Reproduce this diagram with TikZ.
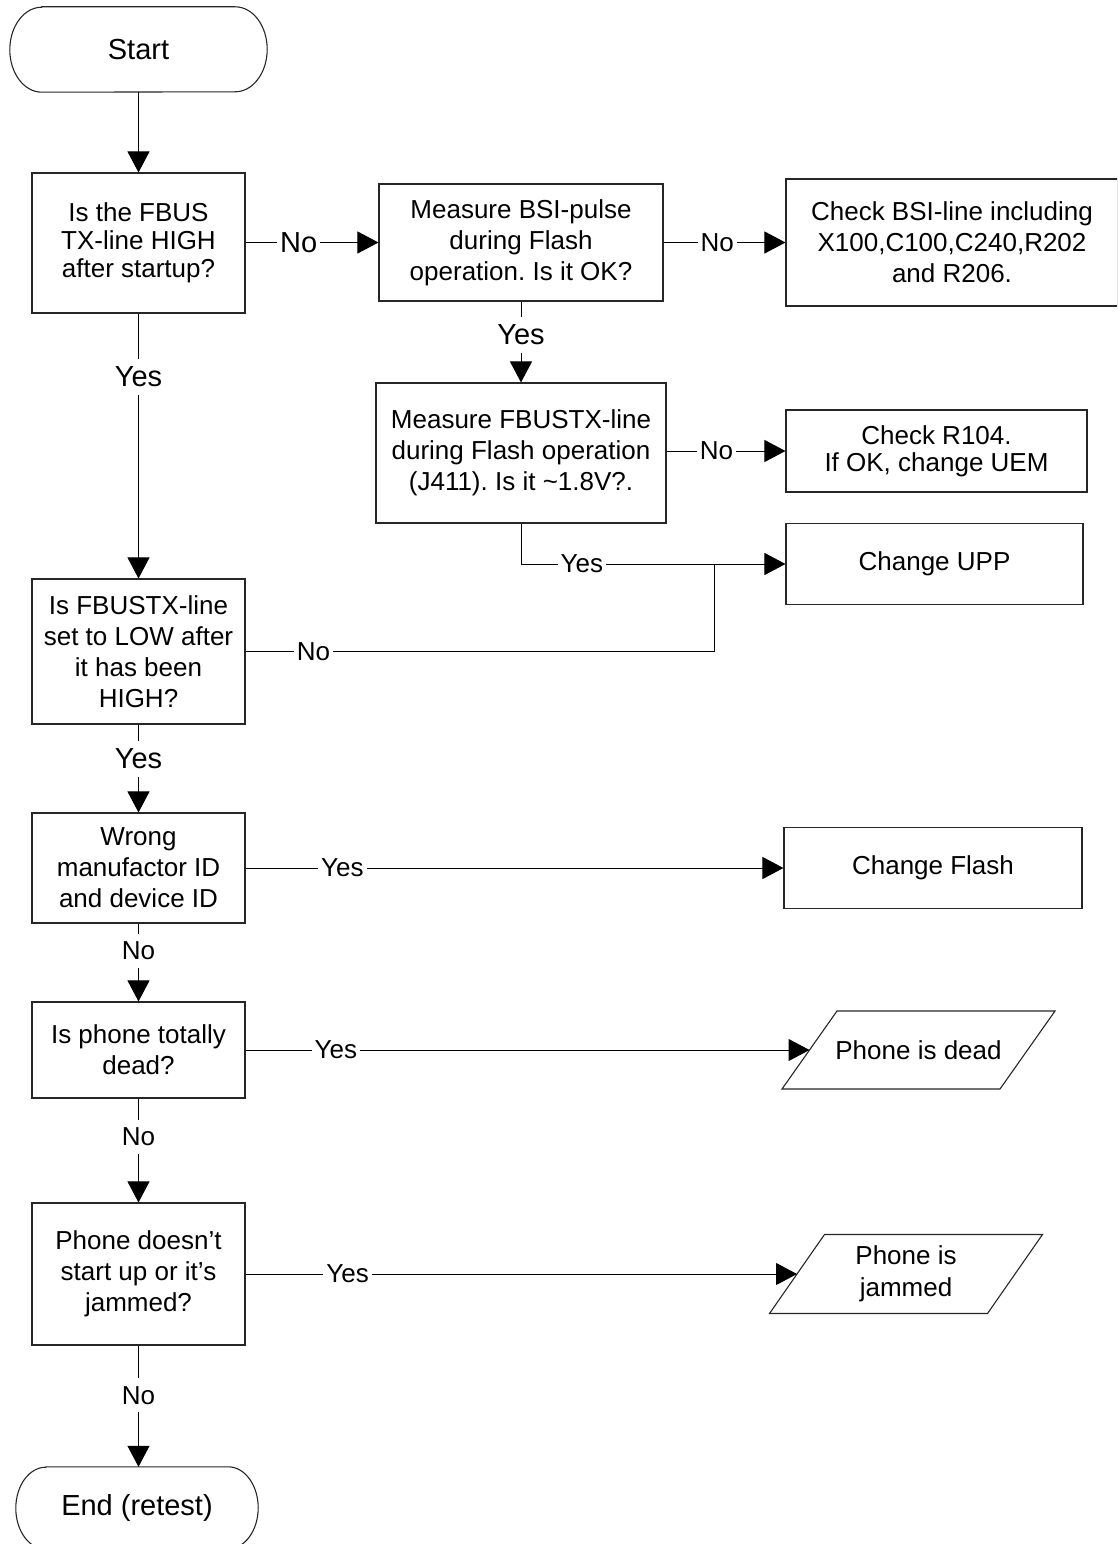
\documentclass[tikz,border=0pt]{standalone}
\usepackage{fontspec}
\setmainfont{Liberation Sans}
\usetikzlibrary{arrows.meta}
\frenchspacing
\begin{document}
\begin{tikzpicture}[x=1pt,y=-1pt,
  box/.style={draw=black!85, line width=1.1pt, rectangle, inner sep=0pt, align=center, font=\fontsize{26}{31}\selectfont},
  txt/.style={inner sep=0pt, align=center, font=\fontsize{26}{31}\selectfont},
  outline/.style={draw=black!85, line width=1.1pt},
  conn/.style={line width=1pt, draw=black},
  arr/.style={conn, -{Triangle[length=21pt,width=22pt]}},
  lbl/.style={fill=white, inner xsep=3pt, inner ysep=8pt, font=\fontsize{26}{31}\selectfont},
  lblbig/.style={font=\fontsize{29}{34}\selectfont}
]
\path[use as bounding box] (0,0) rectangle (1117,1544);
\clip (0,0) rectangle (1117,1544);

% terminals
\node[txt, font=\fontsize{29}{34}\selectfont, minimum width=257pt, minimum height=85pt] (start) at (138.5,49.5) {Start};
\draw[outline] ([xshift=32pt]start.north west) -- ([xshift=-32pt]start.north east)
  arc[start angle=90,end angle=-90,x radius=32pt,y radius=42.5pt]
  -- ([xshift=32pt]start.south west)
  arc[start angle=270,end angle=90,x radius=32pt,y radius=42.5pt] -- cycle;

\node[txt, font=\fontsize{29}{34}\selectfont, minimum width=242pt, minimum height=82pt] (end) at (137,1508) {End (retest)};
\draw[outline] ([xshift=30pt]end.north west) -- ([xshift=-30pt]end.north east)
  arc[start angle=90,end angle=-90,x radius=30pt,y radius=41pt]
  -- ([xshift=30pt]end.south west)
  arc[start angle=270,end angle=90,x radius=30pt,y radius=41pt] -- cycle;

% boxes
\node[box, minimum width=213pt, minimum height=140pt, font=\fontsize{26}{28}\selectfont] (b1) at (138.5,243) {Is the FBUS\\TX-line HIGH\\after startup?};
\node[box, minimum width=284pt, minimum height=117pt] (b2) at (521,242.5) {Measure BSI-pulse\\during Flash\\operation. Is it OK?};
\node[box, minimum width=332pt, minimum height=127pt] (b3) at (952,242.5) {Check BSI-line including\\X100,C100,C240,R202\\and R206.};
\node[box, minimum width=290pt, minimum height=140pt] (b4) at (521,453) {Measure FBUSTX-line\\during Flash operation\\(J411). Is it \textasciitilde1.8V?.};
\node[box, minimum width=301pt, minimum height=82pt, font=\fontsize{26}{27}\selectfont] (b5) at (936.5,451) {Check R104.\\If OK, change UEM};
\node[box, minimum width=297pt, minimum height=81pt] (b6) at (934.5,564) {Change UPP};
\node[box, minimum width=213pt, minimum height=145pt] (b7) at (138.5,651.5) {Is FBUSTX-line\\set to LOW after\\it has been\\HIGH?};
\node[box, minimum width=213pt, minimum height=110pt] (b8) at (138.5,868) {Wrong\\manufactor ID\\and device ID};
\node[box, minimum width=298pt, minimum height=81pt] (flash) at (933,868) {Change Flash};
\node[box, minimum width=213pt, minimum height=96pt] (b9) at (138.5,1050) {Is phone totally\\dead?};
\node[box, minimum width=213pt, minimum height=142pt] (b10) at (138.5,1274) {Phone doesn’t\\start up or it’s\\jammed?};

% parallelograms
\node[txt] (dead) at (918.5,1050) {Phone is dead};
\draw[outline] (dead.center) ++(-81.5,-39) -- ++(218,0) -- ++(-55,78) -- ++(-218,0) -- cycle;
\coordinate (deadL) at ([xshift=-109pt]dead.center);

\node[txt, font=\fontsize{26}{32}\selectfont] (jam) at (906,1274) {Phone is\\jammed};
\draw[outline] (jam.center) ++(-81.5,-39.5) -- ++(218,0) -- ++(-55,79) -- ++(-218,0) -- cycle;
\coordinate (jamL) at ([xshift=-109pt]jam.center);

% connectors
\draw[arr] (start.south) -- (b1.north);
\draw[arr] (b1.east |- b2.west) -- node[lbl,lblbig,pos=0.40]{No} (b2.west);
\draw[arr] (b2.east) -- node[lbl,pos=0.44]{No} (b3.west);
\draw[arr] (b2.south) -- node[lbl,lblbig,pos=0.41]{Yes} (b4.north);
\draw[arr] (b1.south) -- node[lbl,lblbig,pos=0.24]{Yes} (b7.north);
\draw[arr] (b4.east |- b5.west) -- node[lbl,pos=0.42]{No} (b5.west);
\draw[arr] (b4.south) -- (b4.south |- b6.west) -- node[lbl,pos=0.23]{Yes} (b6.west);
\coordinate (j1) at (714,564);
\coordinate (j2) at (714,651.5);
\draw[conn] (b7.east) -- node[lbl,pos=0.145]{No} (j2) -- (j1);
\draw[arr] (b7.south) -- node[lbl,lblbig,pos=0.39]{Yes} (b8.north);
\draw[arr] (b8.east) -- node[lbl,pos=0.18]{Yes} (flash.west);
\draw[arr] (b8.south) -- node[lbl,pos=0.35]{No} (b9.north);
\draw[arr] (b9.east) -- node[lbl,pos=0.16]{Yes} (deadL);
\draw[arr] (b9.south) -- node[lbl,pos=0.37]{No} (b10.north);
\draw[arr] (b10.east) -- node[lbl,pos=0.185]{Yes} (jamL);
\draw[arr] (b10.south) -- node[lbl,pos=0.41]{No} (b10.south |- end.north);
\end{tikzpicture}
\end{document}
